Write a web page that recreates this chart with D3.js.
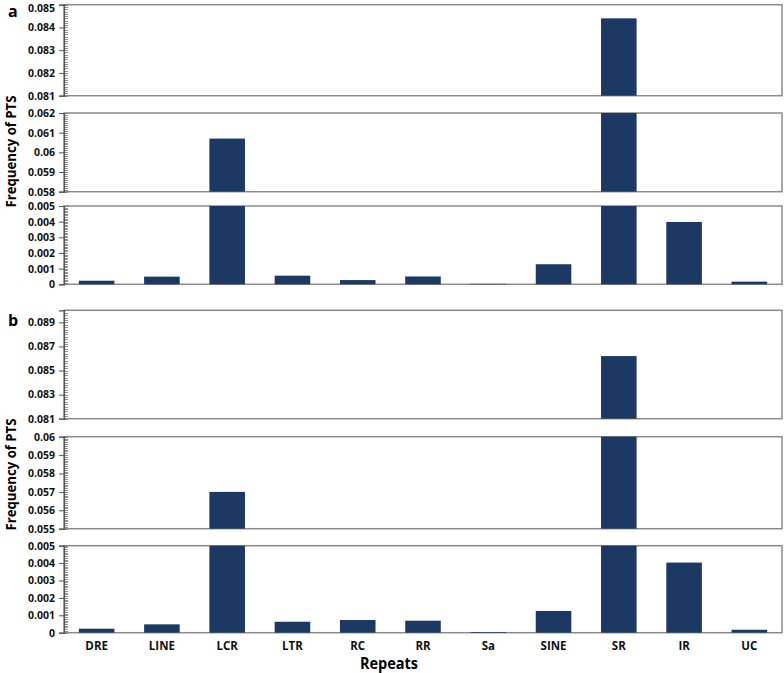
<!DOCTYPE html>
<html><head><meta charset="utf-8">
<script src="https://cdn.jsdelivr.net/npm/d3@7"></script>
<style>body{margin:0;background:#fff}svg{display:block}text{font-family:"Open Sans",sans-serif}</style>
</head><body><svg id="c" width="784" height="673"></svg>
<script>
const categories = ['DRE','LINE','LCR','LTR','RC','RR','Sa','SINE','SR','IR','UC'];
const valuesA = [0.00023, 0.00049, 0.0607, 0.00055, 0.00027, 0.0005, 0.00003, 0.00128, 0.0844, 0.00398, 0.00017];
const valuesB = [0.00023, 0.00048, 0.0570, 0.00063, 0.00073, 0.00069, 0.00004, 0.00125, 0.0862, 0.00403, 0.00017];
// axis segments (broken y axis)
const segmentsA = [
  {dom:[0.081,0.085], ticks:[0.081,0.082,0.083,0.084,0.085], labels:['0.081','0.082','0.083','0.084','0.085'], minor:0.0001},
  {dom:[0.058,0.062], ticks:[0.058,0.059,0.06,0.061,0.062], labels:['0.058','0.059','0.06','0.061','0.062'], minor:0.0001},
  {dom:[0,0.005], ticks:[0,0.001,0.002,0.003,0.004,0.005], labels:['0','0.001','0.002','0.003','0.004','0.005'], minor:0.0001}
];
const segmentsB = [
  {dom:[0.081,0.090], ticks:[0.081,0.083,0.085,0.087,0.089], labels:['0.081','0.083','0.085','0.087','0.089'], minor:0.0002},
  {dom:[0.055,0.060], ticks:[0.055,0.056,0.057,0.058,0.059,0.06], labels:['0.055','0.056','0.057','0.058','0.059','0.06'], minor:0.0001},
  {dom:[0,0.005], ticks:[0,0.001,0.002,0.003,0.004,0.005], labels:['0','0.001','0.002','0.003','0.004','0.005'], minor:0.0001}
];
const svg = d3.select('#c');
const X0 = 64, X1 = 782;
const x = d3.scaleBand().domain(categories).range([X0, X1]).paddingInner(0.455).paddingOuter(0.2275);
const barColor = '#1c3963';
const frameColor = '#8a8a8a';

function panel(values, segs, yRanges, letter, letterY, labelY, showX) {
  segs.forEach((s, i) => {
    const [yt, yb] = yRanges[i];
    const y = d3.scaleLinear().domain(s.dom).range([yb, yt]);
    const g = svg.append('g');
    g.append('rect').attr('x', X0).attr('y', yt).attr('width', X1 - X0).attr('height', yb - yt)
      .attr('fill', 'none').attr('stroke', frameColor).attr('stroke-width', 1.5);
    g.selectAll('rect.bar').data(categories.map((c, k) => ({c, v: values[k]})).filter(d => d.v > s.dom[0]))
      .join('rect').attr('class', 'bar')
      .attr('x', d => x(d.c)).attr('width', x.bandwidth())
      .attr('y', d => y(Math.min(d.v, s.dom[1])))
      .attr('height', d => y(s.dom[0]) - y(Math.min(d.v, s.dom[1])))
      .attr('fill', barColor);
    const minorTicks = d3.range(s.dom[0], s.dom[1] + s.minor / 2, s.minor);
    g.selectAll('line.minor').data(minorTicks).join('line')
      .attr('x1', X0).attr('x2', X0 + 4)
      .attr('y1', d => Math.round(y(d)) + 0.5).attr('y2', d => Math.round(y(d)) + 0.5)
      .attr('stroke', '#777').attr('stroke-width', 0.8);
    const ax = d3.axisLeft(y).tickValues(s.ticks).tickFormat((d, k) => s.labels[k]).tickSize(5).tickPadding(4);
    const a = g.append('g').attr('transform', `translate(${X0},0)`).call(ax);
    a.select('.domain').attr('stroke', '#555').attr('stroke-width', 1.2);
    a.selectAll('.tick line').attr('stroke', '#555');
    a.selectAll('.tick text').attr('font-size', 10.5).attr('font-weight', 700).attr('fill', '#111')
      .attr('font-family', '"Open Sans", sans-serif')
      .attr('y', d => (y(d) < 8 ? 8 - y(d) : 0));
  });
  svg.append('text').attr('x', 8).attr('y', letterY).text(letter)
    .attr('font-size', 16).attr('font-weight', 700);
  svg.append('text').attr('transform', `translate(16,${labelY}) rotate(-90)`)
    .attr('text-anchor', 'middle').text('Frequency of PTS')
    .attr('textLength', 112).attr('lengthAdjust', 'spacingAndGlyphs')
    .attr('font-size', 15).attr('font-weight', 700);
  if (showX) {
    const yb = yRanges[2][1];
    const xa = d3.axisBottom(x).tickSize(0).tickPadding(9);
    const g = svg.append('g').attr('transform', `translate(0,${yb})`).call(xa);
    g.select('.domain').remove();
    g.selectAll('text').attr('font-size', 11.5).attr('font-weight', 700).attr('fill', '#111')
      .attr('font-family', '"Open Sans", sans-serif');
  }
}

panel(valuesA, segmentsA, [[4.7, 95.7], [113, 191.7], [206, 284.3]], 'a', 16.5, 151.5, false);
panel(valuesB, segmentsB, [[310.3, 418.7], [436.7, 528.7], [545.7, 632.7]], 'b', 326, 474.5, true);

svg.append('text').attr('x', 389).attr('y', 669).attr('text-anchor', 'middle')
  .text('Repeats').attr('textLength', 58).attr('lengthAdjust', 'spacingAndGlyphs')
  .attr('font-size', 16).attr('font-weight', 700);
</script></body></html>
